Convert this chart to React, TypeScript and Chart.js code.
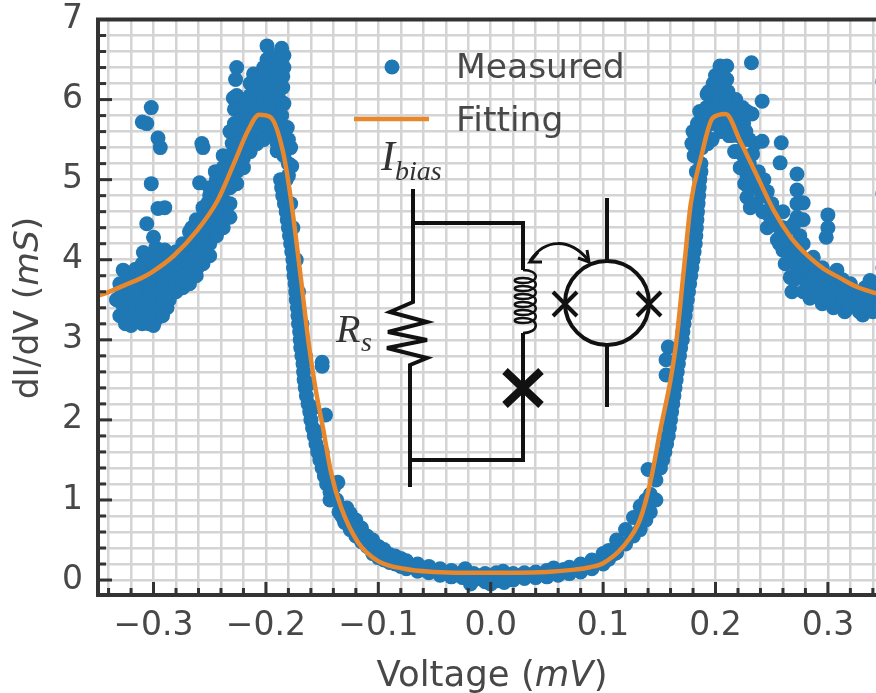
import React, { useEffect, useRef } from "react";
import { Chart, registerables } from "chart.js";

Chart.register(...registerables);

type P = [number, number];

const leftTail: P[] = [[-0.333,3.5],[-0.33,3.3],[-0.33,3.7],[-0.327,3.87],[-0.325,3.2],[-0.325,3.45],[-0.322,3.6],[-0.32,3.18],[-0.32,3.35],[-0.318,3.75],[-0.315,3.25],[-0.313,3.5],[-0.31,3.65],[-0.309,4.09],[-0.308,3.85],[-0.306,3.3],[-0.305,3.95],[-0.303,3.5],[-0.3,3.18],[-0.3,3.35],[-0.3,3.7],[-0.298,4.05],[-0.295,3.45],[-0.295,3.85],[-0.29,4.12],[-0.29,3.6],[-0.288,3.4],[-0.285,3.75],[-0.285,3.95],[-0.28,3.6],[-0.278,3.85],[-0.276,3.74],[-0.272,3.9],[-0.27,4.1],[-0.268,3.8],[-0.265,4.0],[-0.261,3.9],[-0.26,4.2],[-0.256,4.05],[-0.255,4.3],[-0.25,4.2]];
const leftTailFill: P[] = [[-0.328,3.45],[-0.328,3.6],[-0.322,3.3],[-0.322,3.48],[-0.322,3.72],[-0.322,3.82],[-0.316,3.4],[-0.316,3.62],[-0.316,3.88],[-0.31,3.2],[-0.31,3.35],[-0.31,3.45],[-0.31,3.8],[-0.31,3.95],[-0.304,3.2],[-0.304,3.42],[-0.304,3.62],[-0.304,3.8],[-0.304,4.0],[-0.298,3.25],[-0.298,3.55],[-0.298,3.75],[-0.298,3.95],[-0.298,4.15],[-0.292,3.3],[-0.292,3.5],[-0.292,3.7],[-0.292,3.95],[-0.292,4.05],[-0.286,3.5],[-0.286,3.62],[-0.286,3.85],[-0.286,4.05],[-0.28,3.7],[-0.28,3.95],[-0.28,4.1],[-0.274,3.65],[-0.274,3.8],[-0.274,4.0],[-0.274,4.2],[-0.268,3.7],[-0.268,3.95],[-0.268,4.2],[-0.268,4.35],[-0.262,3.8],[-0.262,4.05],[-0.262,4.25],[-0.262,4.4],[-0.256,3.95],[-0.256,4.2],[-0.256,4.45],[-0.256,4.65]];
const leftOutliers: P[] = [[-0.3,4.28],[-0.306,4.45],[-0.296,4.64],[-0.29,4.65],[-0.302,4.95],[-0.294,5.4],[-0.296,5.52],[-0.306,5.7],[-0.31,5.72],[-0.302,5.9],[-0.256,5.4],[-0.257,5.45],[-0.15,2.72],[-0.15,2.67],[-0.147,2.06]];
const leftRise: P[] = [[-0.266,4.4],[-0.262,4.5],[-0.259,4.96],[-0.255,4.55],[-0.252,4.7],[-0.25,4.9],[-0.248,4.45],[-0.245,5.1],[-0.245,4.7],[-0.242,4.5],[-0.24,4.85],[-0.238,5.3],[-0.237,5.05],[-0.235,4.65],[-0.232,4.53],[-0.232,4.9],[-0.231,5.2],[-0.23,5.45],[-0.229,5.03],[-0.228,5.7],[-0.226,5.3],[-0.224,5.55],[-0.22,5.27],[-0.229,6.02],[-0.228,5.88],[-0.227,6.25],[-0.226,6.4],[-0.224,5.9]];
const leftRiseFill: P[] = [[-0.25,4.05],[-0.25,4.35],[-0.25,4.55],[-0.25,4.8],[-0.244,4.3],[-0.244,4.6],[-0.244,4.85],[-0.244,5.0],[-0.238,4.4],[-0.238,4.75],[-0.238,4.95],[-0.238,5.15],[-0.232,4.7],[-0.232,5.1],[-0.232,5.3],[-0.232,5.6],[-0.226,4.95],[-0.226,5.1],[-0.226,5.45],[-0.226,5.7],[-0.226,6.05],[-0.22,5.15],[-0.22,5.4],[-0.22,5.65],[-0.22,5.9]];
const leftPeak: P[] = [[-0.22,5.5],[-0.22,5.75],[-0.218,6.0],[-0.215,5.45],[-0.215,5.7],[-0.214,6.2],[-0.211,6.32],[-0.21,5.95],[-0.21,5.55],[-0.205,5.52],[-0.205,5.8],[-0.205,6.1],[-0.203,6.3],[-0.2,5.6],[-0.2,5.95],[-0.199,6.67],[-0.199,6.5],[-0.198,6.2],[-0.195,5.7],[-0.195,6.1],[-0.195,6.4],[-0.19,5.36],[-0.19,5.6],[-0.19,5.95],[-0.19,6.25],[-0.188,6.0],[-0.186,6.64],[-0.186,6.5],[-0.185,6.29],[-0.185,6.15],[-0.186,5.8],[-0.184,5.5],[-0.181,5.65],[-0.18,5.2],[-0.178,5.4],[-0.177,5.17]];
const leftPeakFill: P[] = [[-0.214,5.35],[-0.214,5.55],[-0.214,5.85],[-0.214,6.05],[-0.208,5.45],[-0.208,5.65],[-0.208,5.85],[-0.208,6.2],[-0.202,5.5],[-0.202,5.7],[-0.202,6.0],[-0.202,6.2],[-0.202,6.4],[-0.196,5.55],[-0.196,5.85],[-0.196,6.0],[-0.196,6.3],[-0.196,6.55],[-0.19,5.45],[-0.19,5.75],[-0.19,6.1],[-0.19,6.4],[-0.184,5.3],[-0.184,5.65],[-0.184,5.95],[-0.184,6.4],[-0.184,6.55],[-0.18,5.05],[-0.18,5.5]];
const leftFall: P[] = [[-0.187,5.0],[-0.185,4.8],[-0.182,4.6],[-0.18,4.4],[-0.178,4.2],[-0.176,4.0],[-0.175,3.8],[-0.1735,3.6],[-0.172,3.4],[-0.171,3.2],[-0.1695,3.0],[-0.168,2.8],[-0.1665,2.6],[-0.165,2.4],[-0.1625,2.2],[-0.16,2.0],[-0.157,1.8],[-0.154,1.6],[-0.15,1.4],[-0.146,1.2]];
const leftFallFill: P[] = [[-0.186,4.9],[-0.1835,4.7],[-0.181,4.5],[-0.179,4.3],[-0.177,4.1],[-0.1755,3.9],[-0.174,3.7],[-0.173,3.5],[-0.1715,3.3],[-0.17,3.1],[-0.169,2.9],[-0.167,2.7],[-0.166,2.5],[-0.164,2.3],[-0.161,2.1],[-0.1585,1.9],[-0.1555,1.7],[-0.152,1.5],[-0.148,1.3],[-0.143,1.1],[-0.182,5.0],[-0.178,4.7],[-0.176,4.4],[-0.173,4.0],[-0.171,3.6],[-0.168,3.2],[-0.165,2.8],[-0.162,2.45],[-0.158,2.15],[-0.154,1.85],[-0.15,1.6]];
const valleyLeft: P[] = [[-0.143,1.0],[-0.137,1.0],[-0.14,1.15],[-0.136,1.22],[-0.135,0.85],[-0.13,0.72],[-0.128,0.9],[-0.125,0.63],[-0.125,0.83],[-0.12,0.55],[-0.12,0.75],[-0.115,0.48],[-0.115,0.65],[-0.11,0.42],[-0.11,0.55],[-0.105,0.33],[-0.105,0.5],[-0.1,0.28],[-0.1,0.42],[-0.095,0.25],[-0.095,0.38],[-0.09,0.22],[-0.09,0.32],[-0.085,0.2],[-0.085,0.3],[-0.08,0.17],[-0.08,0.27]];
const valleyFloor: P[] = [[-0.075,0.24],[-0.075,0.14],[-0.065,0.2],[-0.065,0.11],[-0.055,0.17],[-0.055,0.09],[-0.045,0.14],[-0.045,0.06],[-0.035,0.12],[-0.035,0.04],[-0.025,0.1],[-0.025,0.03],[-0.0227,0.14],[-0.018,-0.05],[-0.015,0.08],[-0.015,0.0],[-0.005,0.08],[-0.005,-0.02],[0,-0.05],[0.005,0.09],[0.005,-0.01],[0.011,0.11],[0.012,-0.03],[0.02,0.08],[0.02,0.0],[0.03,0.09],[0.03,0.02],[0.04,0.1],[0.04,0.03],[0.05,0.12],[0.05,0.04],[0.056,0.15],[0.06,0.06],[0.065,0.13],[0.07,0.16],[0.07,0.08],[0.08,0.2],[0.08,0.1],[0.09,0.25],[0.09,0.14],[0.1,0.33],[0.1,0.2],[0.105,0.37],[0.105,0.26]];
const valleyFill: P[] = [[-0.1325,0.8],[-0.1225,0.65],[-0.1175,0.6],[-0.1125,0.5],[-0.1075,0.42],[-0.1025,0.38],[-0.0975,0.33],[-0.0925,0.28],[-0.0875,0.25],[-0.0825,0.23],[-0.0775,0.2],[-0.07,0.17],[-0.06,0.14],[-0.05,0.12],[-0.04,0.09],[-0.03,0.07],[-0.02,0.05],[-0.01,0.04],[0,0.05],[0.01,0.04],[0.015,0.05],[0.025,0.05],[0.035,0.06],[0.045,0.07],[0.055,0.09],[0.065,0.1],[0.075,0.13],[0.085,0.17],[0.095,0.22],[0.11,0.33]];
const rightRise: P[] = [[0.112,0.5],[0.112,0.34],[0.12,0.63],[0.12,0.45],[0.127,0.78],[0.127,0.55],[0.133,0.92],[0.133,0.63],[0.138,1.0],[0.138,0.75],[0.142,1.07],[0.142,0.85],[0.147,1.25],[0.147,1.0],[0.14,1.38],[0.151,1.4],[0.155,1.6],[0.158,1.8],[0.16,2.0],[0.162,2.2],[0.164,2.4],[0.166,2.6],[0.168,2.8],[0.1705,3.0],[0.172,3.2],[0.174,3.4],[0.176,3.6],[0.178,3.8],[0.18,4.0],[0.182,4.2],[0.183,4.4],[0.184,4.6],[0.185,4.8],[0.186,5.0],[0.187,5.2],[0.158,2.91],[0.156,2.75],[0.156,2.56]];
const rightRiseFill: P[] = [[0.153,1.5],[0.1565,1.7],[0.159,1.9],[0.161,2.1],[0.163,2.3],[0.165,2.5],[0.167,2.7],[0.169,2.9],[0.171,3.1],[0.173,3.3],[0.175,3.5],[0.177,3.7],[0.179,3.9],[0.181,4.1],[0.1825,4.3],[0.1835,4.5],[0.1845,4.7],[0.1855,4.9],[0.1865,5.1]];
const rightPeak: P[] = [[0.179,5.45],[0.18,5.6],[0.181,5.3],[0.183,5.1],[0.188,5.4],[0.188,5.7],[0.186,5.85],[0.193,5.45],[0.19,5.6],[0.192,5.9],[0.1925,6.07],[0.195,5.7],[0.197,5.5],[0.197,6.0],[0.198,6.2],[0.2,5.7],[0.2,6.3],[0.202,5.95],[0.204,6.42],[0.205,5.6],[0.206,6.1],[0.208,5.8],[0.21,6.42],[0.21,6.25],[0.212,5.55],[0.213,6.02],[0.215,5.7],[0.215,5.9],[0.218,6.0],[0.22,5.55],[0.22,5.8],[0.225,5.7],[0.225,5.5],[0.228,5.85],[0.2325,5.82],[0.225,5.3],[0.23,5.5],[0.233,5.32],[0.228,5.05],[0.233,5.1],[0.226,4.95]];
const rightPeakFill: P[] = [[0.184,5.5],[0.184,5.7],[0.187,5.1],[0.19,5.45],[0.193,5.7],[0.194,6.1],[0.196,5.85],[0.199,5.9],[0.199,6.1],[0.201,6.2],[0.203,5.8],[0.204,6.0],[0.204,6.25],[0.207,5.65],[0.207,6.3],[0.209,5.95],[0.211,6.1],[0.211,5.7],[0.214,5.55],[0.217,5.75],[0.217,5.35],[0.22,5.35],[0.222,5.15],[0.222,5.65],[0.224,5.9],[0.227,5.6],[0.23,5.2],[0.23,4.9],[0.235,5.45],[0.235,4.95],[0.238,4.9]];
const rightFall: P[] = [[0.228,4.78],[0.231,4.65],[0.232,4.95],[0.238,5.1],[0.24,4.85],[0.236,4.7],[0.242,4.6],[0.246,4.4],[0.246,4.85],[0.25,4.7],[0.252,4.45],[0.255,4.25],[0.26,4.12],[0.26,4.4],[0.26,4.6],[0.2665,3.78],[0.268,3.6],[0.27,3.95],[0.27,4.2],[0.2725,4.53],[0.275,4.3],[0.28,4.0],[0.28,3.75],[0.284,3.52],[0.287,4.03],[0.29,3.7],[0.295,3.45],[0.295,3.9],[0.3,3.6],[0.305,3.4],[0.308,3.87],[0.31,3.6],[0.315,3.35],[0.32,3.7],[0.325,3.45],[0.331,3.31],[0.335,3.5],[0.3375,3.74],[0.34,3.35],[0.343,3.55]];
const rightFallFill: P[] = [[0.243,4.8],[0.243,5.0],[0.248,4.55],[0.253,4.6],[0.257,4.4],[0.257,4.2],[0.262,4.25],[0.262,3.95],[0.266,4.05],[0.266,4.4],[0.27,3.75],[0.27,4.45],[0.274,3.8],[0.274,4.1],[0.278,3.6],[0.278,3.9],[0.278,4.2],[0.283,3.7],[0.283,3.9],[0.288,3.55],[0.288,3.8],[0.293,3.6],[0.298,3.5],[0.298,3.75],[0.303,3.55],[0.303,3.8],[0.308,3.45],[0.308,3.65],[0.313,3.5],[0.313,3.75],[0.318,3.4],[0.318,3.55],[0.323,3.6],[0.328,3.35],[0.328,3.55],[0.333,3.4],[0.333,3.65],[0.338,3.45],[0.342,3.7],[0.346,3.4],[0.346,3.6]];
const rightOutliers: P[] = [[0.232,6.46],[0.2415,5.98],[0.2415,5.48],[0.2585,5.46],[0.2575,5.21],[0.2725,5.07],[0.2725,4.87],[0.2725,4.7],[0.278,4.71],[0.278,4.5],[0.3,4.56],[0.3,4.4],[0.2985,4.28],[0.349,6.23],[0.349,4.83],[0.349,3.9]];

const fitVoltage = [-0.35,-0.343,-0.326,-0.311,-0.302,-0.282,-0.261,-0.243,-0.2285,-0.216,-0.206,-0.196,-0.185,-0.178,-0.169,-0.162,-0.156,-0.1495,-0.142,-0.1335,-0.118,-0.1005,-0.077,-0.05,-0.025,0,0.025,0.05,0.075,0.0885,0.1,0.118,0.133,0.142,0.151,0.16,0.165,0.172,0.178,0.187,0.1975,0.209,0.222,0.2375,0.252,0.267,0.282,0.296,0.311,0.326,0.343];
const fitConductance = [3.55,3.58,3.68,3.77,3.84,4.05,4.37,4.74,5.2,5.61,5.81,5.78,5.36,4.78,3.78,2.96,2.4,1.92,1.34,0.92,0.47,0.24,0.14,0.1,0.09,0.09,0.09,0.1,0.13,0.16,0.21,0.42,0.76,1.22,1.88,2.5,2.96,3.9,4.7,5.27,5.77,5.82,5.48,5.03,4.61,4.28,4.05,3.89,3.77,3.66,3.58];

const measured: P[] = [...leftTail, ...leftTailFill, ...leftOutliers, ...leftRise, ...leftRiseFill, ...leftPeak, ...leftPeakFill, ...leftFall, ...leftFallFill, ...valleyLeft, ...valleyFloor, ...valleyFill, ...rightRise, ...rightRiseFill, ...rightPeak, ...rightPeakFill, ...rightFall, ...rightFallFill, ...rightOutliers];

const xTickSteps = [-17,-16,-15,-14,-13,-12,-11,-10,-9,-8,-7,-6,-5,-4,-3,-2,-1,0,1,2,3,4,5,6,7,8,9,10,11,12,13,14,15,16,17];
const yTickSteps = [0,1,2,3,4,5,6,7,8,9,10,11,12,13,14,15,16,17,18,19,20,21,22,23,24,25,26,27,28,29,30,31,32,33,34,35];

const xTitle: [string, boolean][] = [["Voltage (", false], ["mV", true], [")", false]];
const yTitle: [string, boolean][] = [["dI/dV (", false], ["mS", true], [")", false]];

const FONT = '"DejaVu Sans"';
const TEXT = "#484848";
const SPINE = "#333333";
const BLUE = "#1f77b4";
const ORANGE = "#e8872c";

function drawRich(ctx: CanvasRenderingContext2D, parts: [string, boolean][], size: number) {
  const fontOf = (it: boolean) => `${it ? "italic " : ""}${size}px ${FONT}`;
  let total = 0;
  for (const [t, it] of parts) { ctx.font = fontOf(it); total += ctx.measureText(t).width; }
  let x = -total / 2;
  for (const [t, it] of parts) {
    ctx.font = fontOf(it);
    ctx.fillText(t, x, 0);
    x += ctx.measureText(t).width;
  }
}

const framePlugin = {
  id: "frame",
  afterDatasetsDraw(chart: any) {
    const { ctx, chartArea: a, scales } = chart;
    ctx.save();
    ctx.strokeStyle = SPINE;
    ctx.lineWidth = 3;
    for (const t of scales.x.ticks) {
      const px = scales.x.getPixelForValue(t.value);
      const major = Math.abs(Math.round(t.value * 50)) % 5 === 0;
      ctx.beginPath(); ctx.moveTo(px, a.bottom); ctx.lineTo(px, a.bottom - (major ? 13 : 7)); ctx.stroke();
    }
    for (const t of scales.y.ticks) {
      const py = scales.y.getPixelForValue(t.value);
      const major = Math.round(t.value * 5) % 5 === 0;
      ctx.beginPath(); ctx.moveTo(a.left, py); ctx.lineTo(a.left + (major ? 14 : 8), py); ctx.stroke();
    }
    ctx.lineWidth = 4;
    ctx.beginPath();
    ctx.moveTo(a.right, a.top); ctx.lineTo(a.left, a.top); ctx.lineTo(a.left, a.bottom); ctx.lineTo(a.right, a.bottom);
    ctx.stroke();

    // legend
    const d = chart.data.datasets;
    ctx.fillStyle = BLUE;
    ctx.beginPath(); ctx.arc(392, 67, 7.5, 0, Math.PI * 2); ctx.fill();
    ctx.strokeStyle = ORANGE; ctx.lineWidth = 4.5;
    ctx.beginPath(); ctx.moveTo(354, 119); ctx.lineTo(429, 119); ctx.stroke();
    ctx.fillStyle = TEXT;
    ctx.textAlign = "left";
    ctx.textBaseline = "alphabetic";
    ctx.font = `34.5px ${FONT}`;
    ctx.fillText(d[1].label, 456, 78);
    ctx.fillText(d[0].label, 456, 131);

    // axis titles
    ctx.save();
    ctx.translate(492, 686);
    drawRich(ctx, xTitle, 35.5);
    ctx.restore();
    ctx.save();
    ctx.translate(38, 308);
    ctx.rotate(-Math.PI / 2);
    drawRich(ctx, yTitle, 34.5);
    ctx.restore();
    ctx.restore();
  },
};

function coilPath() {
  let d = "M523 270";
  for (let i = 0; i < 6; i++) {
    d += " c17,0 17,13 0,13 c-11,0 -11,-5 0,-5";
  }
  d += " c17,0 17,15 0,15";
  return d;
}

const fixX = (s: any) => { s.height = 98; s.paddingLeft = 0; s.paddingRight = 0; s.paddingTop = 0; s.paddingBottom = 0; };
const fixY = (s: any) => { s.width = 98; s.paddingLeft = 0; s.paddingRight = 0; s.paddingTop = 0; s.paddingBottom = 0; };

export default function App() {
  const ref = useRef<HTMLCanvasElement>(null);
  useEffect(() => {
    if (!ref.current) return;
    const chart = new Chart(ref.current, {
      type: "scatter",
      plugins: [framePlugin],
      data: {
        datasets: [
          {
            label: "Fitting",
            order: 0,
            data: fitVoltage.map((x, i) => ({ x, y: fitConductance[i] })),
            showLine: true,
            borderColor: ORANGE,
            borderWidth: 4.5,
            pointRadius: 0,
            cubicInterpolationMode: "monotone",
          },
          {
            label: "Measured",
            order: 1,
            data: measured.map(([x, y]) => ({ x, y })),
            backgroundColor: BLUE,
            borderWidth: 0,
            pointRadius: 7.5,
            pointHoverRadius: 7.5,
          },
        ],
      },
      options: {
        animation: false,
        responsive: false,
        events: [],
        layout: { autoPadding: false, padding: { top: 19.5, right: 0, left: 0, bottom: 0 } },
        plugins: { legend: { display: false }, tooltip: { enabled: false } },
        scales: {
          x: {
            type: "linear",
            min: -0.3494,
            max: 0.3428,
            afterFit: fixX,
            afterBuildTicks: (s: any) => { s.ticks = xTickSteps.map((k) => ({ value: k / 50 })); },
            grid: { color: "#d4d4d4", lineWidth: 2.5, drawTicks: false },
            border: { display: false },
            ticks: {
              autoSkip: false,
              maxRotation: 0,
              padding: 12,
              color: TEXT,
              font: { family: FONT, size: 33 },
              callback: (v: any) => {
                const n = Math.round(Number(v) * 50);
                if (n % 5 !== 0) return "";
                return (n < 0 ? "\u2212" : "") + (Math.abs(n) / 50).toFixed(1);
              },
            },
          },
          y: {
            type: "linear",
            min: -0.187,
            max: 7,
            afterFit: fixY,
            afterBuildTicks: (s: any) => { s.ticks = yTickSteps.map((k) => ({ value: k / 5 })); },
            grid: { color: "#d4d4d4", lineWidth: 2.5, drawTicks: false },
            border: { display: false },
            ticks: {
              autoSkip: false,
              padding: 15,
              color: TEXT,
              font: { family: FONT, size: 33 },
              callback: (v: any) => {
                const n = Math.round(Number(v) * 5);
                return n % 5 === 0 ? String(n / 5) : "";
              },
            },
          },
        },
      },
    } as any);
    return () => chart.destroy();
  }, []);

  const serif = '"Liberation Serif"';
  return (
    <div style={{ position: "fixed", left: 0, top: 0, width: 876, height: 693, overflow: "hidden", background: "#fff", filter: "blur(0.5px)" }}>
      <canvas ref={ref} width={876} height={693} style={{ display: "block", width: 876, height: 693 }} />
      <svg width={876} height={693} style={{ position: "absolute", left: 0, top: 0 }} fill="none" stroke="#111" strokeWidth={4}>
        <path d="M413 189V302L390 312L427 322L388 332L427 340L387 348L427 358L410 365V487" />
        <path d="M413 223H523V270" />
        <path d={coilPath()} strokeWidth={2.5} />
        <path d="M523 333V460H410" />
        <path d="M505 371L541 405M541 371L505 405" strokeWidth={8} />
        <circle cx={607} cy={303} r={42} strokeWidth={4} />
        <path d="M607 198V261M607 345V407" />
        <path d="M553 292L577 316M577 292L553 316M637 292L661 316M661 292L637 316" />
        <path d="M530 261C545 238 570 238 588 260" strokeWidth={3} />
        <path d="M538 252L530 262L542 262M578 258L589 262L587 250" strokeWidth={3} />
        <g fill="#333" stroke="none" fontFamily={serif} fontStyle="italic">
          <text x={381} y={170} fontSize={42}>I</text>
          <text x={395} y={180} fontSize={28}>bias</text>
          <text x={336} y={342} fontSize={40}>R</text>
          <text x={361} y={351} fontSize={28}>s</text>
        </g>
      </svg>
    </div>
  );
}
